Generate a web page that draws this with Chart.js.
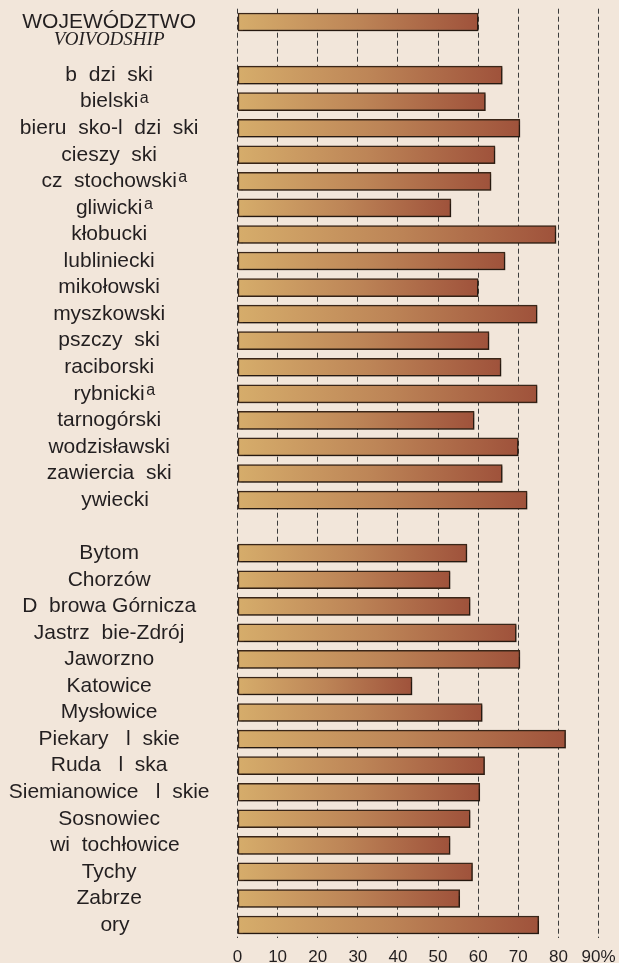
<!DOCTYPE html>
<html><head><meta charset="utf-8">
<script src="https://cdn.jsdelivr.net/npm/chart.js@4/dist/chart.umd.min.js"></script>
<style>
html,body{margin:0;padding:0;background:#f2e6da;}
#wrap{width:619px;height:963px;position:relative;}
canvas{display:block;}
</style></head><body>
<div id="wrap"><canvas id="c" width="619" height="963"></canvas></div>
<script>
// ---- data ----
const categories = [
  'WOJEWÓDZTWO', '',
  'b  dzi  ski', 'bielski', 'bieru  sko-l  dzi  ski', 'cieszy  ski', 'cz  stochowski',
  'gliwicki', 'kłobucki', 'lubliniecki', 'mikołowski', 'myszkowski', 'pszczy  ski',
  'raciborski', 'rybnicki', 'tarnogórski', 'wodzisławski', 'zawiercia  ski', '  ywiecki',
  '',
  'Bytom', 'Chorzów', 'D  browa Górnicza', 'Jastrz  bie-Zdrój', 'Jaworzno', 'Katowice',
  'Mysłowice', 'Piekary   l  skie', 'Ruda   l  ska', 'Siemianowice   l  skie', 'Sosnowiec',
  '  wi  tochłowice', 'Tychy', 'Zabrze', '  ory'
];
const footnoted = ['bielski', 'cz  stochowski', 'gliwicki', 'rybnicki'];
const footnoteMark = 'a';
const headerSubtitle = 'VOIVODSHIP';
const values = [
  60.0, null,
  66.0, 61.8, 70.4, 64.2, 63.2,
  53.2, 79.4, 66.7, 60.0, 74.7, 62.7,
  65.7, 74.7, 59.0, 70.0, 66.0, 72.2,
  null,
  57.2, 53.0, 58.0, 69.5, 70.4, 43.5,
  61.0, 81.8, 61.6, 60.4, 58.0,
  53.0, 58.6, 55.4, 75.1
];
const xTicks = [0, 10, 20, 30, 40, 50, 60, 70, 80, 90];
const xMax = 90;

// ---- styles ----
const BG = '#f2e6da';
const TXT = '#231f20';
const LABEL_FONT = "'Liberation Sans', Arial, sans-serif";
const LABEL_SIZE = 21;

const bgPlugin = {
  id: 'bg',
  beforeDraw(chart) {
    const c = chart.ctx;
    c.save(); c.fillStyle = BG; c.fillRect(0, 0, chart.width, chart.height); c.restore();
  }
};
const shadowPlugin = {
  id: 'shadow',
  beforeDatasetDraw(chart) {
    const c = chart.ctx;
    c.save();
    c.shadowColor = 'rgba(0,0,0,0.35)';
    c.shadowOffsetX = 1.5; c.shadowOffsetY = 1.5; c.shadowBlur = 1.5;
  },
  afterDatasetDraw(chart) { chart.ctx.restore(); }
};
const textPlugin = {
  id: 'texts',
  afterDraw(chart) {
    const ys = chart.scales.y;
    const items = ys._labelItems || [];
    const c = chart.ctx;
    c.save();
    c.fillStyle = TXT;
    // subtitle under header
    let cx = 108;
    if (items[0] && items[0].options && items[0].options.translation) cx = items[0].options.translation[0];
    c.font = "italic 19px 'Liberation Serif', 'Times New Roman', serif";
    c.textAlign = 'center'; c.textBaseline = 'alphabetic';
    c.fillText(headerSubtitle, cx, ys.getPixelForTick(0) + 23.5);
    // superscript footnote marks
    items.forEach(it => {
      if (!footnoted.includes(it.label)) return;
      const [x, y] = it.options.translation;
      c.font = LABEL_SIZE + "px " + LABEL_FONT;
      const w = c.measureText(it.label).width;
      c.font = "16px " + LABEL_FONT;
      c.textAlign = 'left'; c.textBaseline = 'alphabetic';
      c.fillText(footnoteMark, x + w / 2 + 1.5, y + 1);
    });
    c.restore();
  }
};

function barGradient(ctx) {
  const chart = ctx.chart;
  const v = ctx.raw;
  const fallback = '#bd8557';
  if (v == null || !chart.scales || !chart.scales.x) return fallback;
  const xs = chart.scales.x;
  const x0 = xs.getPixelForValue(0), x1 = xs.getPixelForValue(v);
  if (!isFinite(x0) || !isFinite(x1) || x1 <= x0) return fallback;
  const g = chart.ctx.createLinearGradient(x0, 0, x1, 0);
  g.addColorStop(0, '#d6ad6b');
  g.addColorStop(0.5, '#bd8557');
  g.addColorStop(1, '#9f523b');
  return g;
}

new Chart(document.getElementById('c'), {
  type: 'bar',
  data: {
    labels: categories,
    datasets: [{
      data: values,
      backgroundColor: barGradient,
      borderColor: '#3a2618',
      borderWidth: 1.5,
      borderSkipped: false,
      barThickness: 18
    }]
  },
  options: {
    indexAxis: 'y',
    responsive: false,
    animation: false,
    devicePixelRatio: 1,
    layout: { padding: { top: 8.7, right: 20.5, bottom: 0, left: 0 } },
    plugins: { legend: { display: false }, tooltip: { enabled: false } },
    scales: {
      x: {
        type: 'linear', min: 0, max: xMax,
        afterBuildTicks(scale) { scale.ticks = xTicks.map(v => ({ value: v })); },
        afterFit(scale) { scale.height = 24.7; scale.paddingLeft = 0; scale.paddingRight = 0; },
        border: { display: false, dash: [5, 3] },
        grid: { color: '#3c3c3c', lineWidth: 1, drawTicks: false },
        ticks: {
          padding: 9,
          color: TXT,
          font: { family: LABEL_FONT, size: 17 },
          maxRotation: 0,
          callback: (v) => v === xMax ? v + '%' : String(v)
        }
      },
      y: {
        type: 'category',
        afterFit(scale) { scale.width = 237.5; scale.paddingTop = 0; scale.paddingBottom = 0; },
        border: { display: false },
        grid: { display: false, drawTicks: false },
        ticks: {
          crossAlign: 'center',
          padding: 28,
          color: TXT,
          autoSkip: false,
          font: { family: LABEL_FONT, size: LABEL_SIZE }
        }
      }
    }
  },
  plugins: [bgPlugin, shadowPlugin, textPlugin]
});
</script>
</body></html>
